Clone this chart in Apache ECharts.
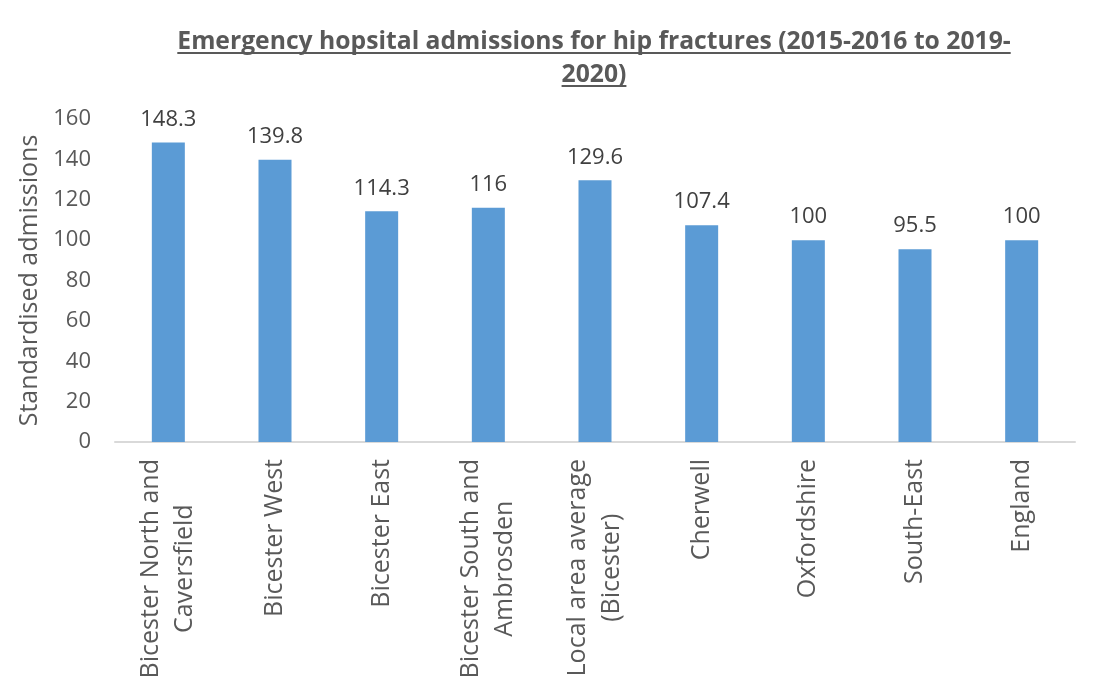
<!DOCTYPE html>
<html>
<head>
<meta charset="utf-8">
<script src="https://cdn.jsdelivr.net/npm/echarts@6/dist/echarts.min.js"></script>
<style>
  html, body { margin: 0; padding: 0; background: #fff; }
  #chart { width: 1095px; height: 695px; }
</style>
</head>
<body>
<div id="chart"></div>
<script>
// Areas compared, in display order
const categories = [
  'Bicester North and\nCaversfield',
  'Bicester West',
  'Bicester East',
  'Bicester South and\nAmbrosden',
  'Local area average\n(Bicester)',
  'Cherwell',
  'Oxfordshire',
  'South-East',
  'England'
];
// Standardised admission ratios (England = 100)
const admissions = [148.3, 139.8, 114.3, 116, 129.6, 107.4, 100, 95.5, 100];
// Value axis ticks
const yTicks = [0, 20, 40, 60, 80, 100, 120, 140, 160];

const titleLines = [
  'Emergency hopsital admissions for hip fractures (2015-2016 to 2019-',
  '2020)'
];

const FONT = '"Open Sans", "Liberation Sans", sans-serif';
const TITLE_FONT = '"Open Sans", "Liberation Sans", sans-serif';
const TITLE_SIZE = 24.7;
const TITLE_COLOR = '#595959';

const chart = echarts.init(document.getElementById('chart'), null, { renderer: 'canvas' });

// measure title lines so each can carry an underline
const ctx = document.createElement('canvas').getContext('2d');
ctx.font = 'bold ' + TITLE_SIZE + 'px ' + TITLE_FONT;
const titleCenterX = 594;
const titleTops = [29, 62];
const titleGraphics = [];
titleLines.forEach(function (line, i) {
  const w = ctx.measureText(line).width;
  titleGraphics.push({
    type: 'text',
    left: titleCenterX - w / 2,
    top: titleTops[i],
    style: {
      text: line,
      font: 'bold ' + TITLE_SIZE + 'px ' + TITLE_FONT,
      fill: TITLE_COLOR
    }
  });
  titleGraphics.push({
    type: 'rect',
    left: titleCenterX - w / 2,
    top: titleTops[i] + 23,
    shape: { width: w, height: 2 },
    style: { fill: TITLE_COLOR }
  });
});

chart.setOption({
  animation: false,
  graphic: titleGraphics,
  grid: { left: 115, right: 20, top: 119, bottom: 253, containLabel: false },
  xAxis: {
    type: 'category',
    data: categories,
    axisLine: { lineStyle: { color: '#d9d9d9', width: 2 } },
    axisTick: { show: false },
    axisLabel: {
      rotate: 90,
      interval: 0,
      margin: 17,
      color: '#595959',
      fontFamily: FONT,
      fontSize: 25,
      lineHeight: 34,
      formatter: function (v) {
        return v.split('\n').map(function (s) { return '{c|' + s + '}'; }).join('\n');
      },
      rich: {
        c: { align: 'center', color: '#595959', fontFamily: FONT, fontSize: 25, lineHeight: 34 }
      }
    }
  },
  yAxis: {
    type: 'value',
    min: yTicks[0],
    max: yTicks[yTicks.length - 1],
    interval: yTicks[1] - yTicks[0],
    name: 'Standardised admissions',
    nameLocation: 'middle',
    nameGap: 69,
    nameRotate: 90,
    nameTextStyle: { color: '#595959', fontFamily: FONT, fontSize: 25 },
    axisLine: { show: false },
    axisTick: { show: false },
    splitLine: { show: false },
    axisLabel: { color: '#595959', fontFamily: FONT, fontSize: 22, margin: 24 }
  },
  series: [{
    type: 'bar',
    data: admissions,
    barWidth: 33,
    itemStyle: { color: '#5b9bd5' },
    label: {
      show: true,
      position: 'top',
      distance: 12,
      color: '#404040',
      fontFamily: FONT,
      fontSize: 22
    }
  }]
});
</script>
</body>
</html>
